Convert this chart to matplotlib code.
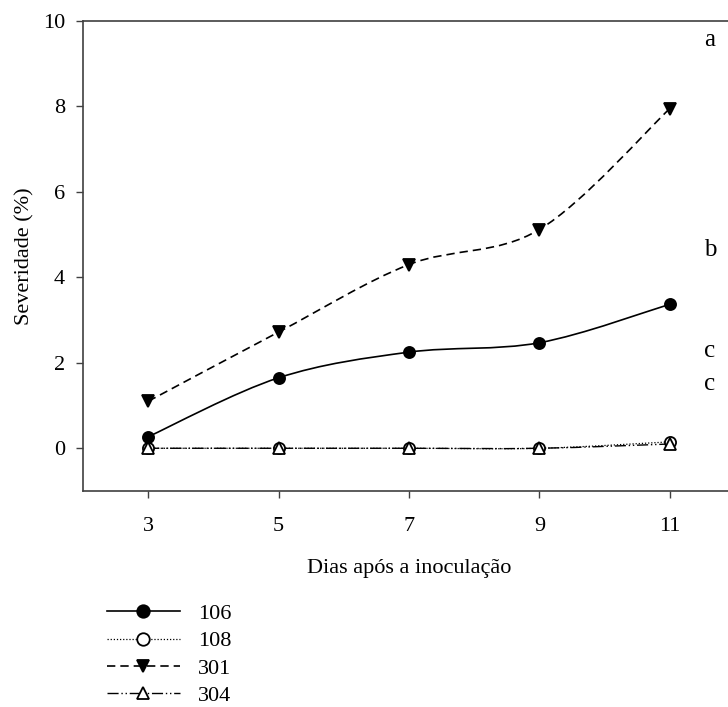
import matplotlib
matplotlib.use("Agg")
import matplotlib.pyplot as plt
from matplotlib.path import Path
from matplotlib.patches import PathPatch
from matplotlib.lines import Line2D
import numpy as np

plt.rcParams['font.family'] = ['Liberation Serif', 'DejaVu Serif']

# data
dias = [3, 5, 7, 9, 11]
sev_106 = [0.27, 1.65, 2.25, 2.47, 3.37]
sev_108 = [0.0, 0.0, 0.0, 0.0, 0.15]
sev_301 = [1.10, 2.72, 4.30, 5.12, 7.95]
sev_304 = [0.0, 0.0, 0.0, 0.0, 0.10]
letras = ["a", "b", "c", "c"]
letras_y = [9.55, 4.65, 2.27, 1.50]

series = [
    ("106", sev_106, "-", "o", "black", 1.2),
    ("108", sev_108, (0, (1, 1.5)), "o", "white", 0.9),
    ("301", sev_301, (0, (5, 3)), "v", "black", 1.2),
    ("304", sev_304, (0, (8, 2, 1, 2, 1, 2)), "^", "white", 1.0),
]


def smooth_path(x, y):
    # bezier curve through the points (Catmull-Rom style control points)
    x = np.asarray(x, float)
    y = np.asarray(y, float)
    verts = [(x[0], y[0])]
    codes = [Path.MOVETO]
    n = len(x)
    for i in range(n - 1):
        x0, y0 = (x[i - 1], y[i - 1]) if i > 0 else (x[i], y[i])
        x3, y3 = (x[i + 2], y[i + 2]) if i + 2 < n else (x[i + 1], y[i + 1])
        c1 = (x[i] + (x[i + 1] - x0) / 6, y[i] + (y[i + 1] - y0) / 6)
        c2 = (x[i + 1] - (x3 - x[i]) / 6, y[i + 1] - (y3 - y[i]) / 6)
        verts += [c1, c2, (x[i + 1], y[i + 1])]
        codes += [Path.CURVE4] * 3
    return Path(verts, codes)


fig = plt.figure(figsize=(7.28, 7.07), dpi=100)
ax = fig.add_axes([83 / 728, 1 - 491 / 707, 652 / 728, 470 / 707])

for name, vals, ls, mk, fc, lw in series:
    patch = PathPatch(smooth_path(dias, vals), facecolor="none", edgecolor="black",
                      linestyle=ls, linewidth=lw)
    ax.add_patch(patch)
    ax.plot(dias, vals, linestyle="none", marker=mk, markersize=8,
            markerfacecolor=fc, markeredgecolor="black", markeredgewidth=1.3,
            zorder=3)

for txt, yy in zip(letras, letras_y):
    ax.text(11.52, yy, txt, fontsize=18, ha="left", va="center")

ax.set_xlim(2, 12)
ax.set_ylim(-1, 10)
ax.set_xticks(dias)
ax.set_yticks([0, 2, 4, 6, 8, 10])
ax.tick_params(direction="out", length=5, width=1, labelsize=16, color="#404040")
ax.tick_params(axis="y", pad=8)
ax.tick_params(axis="x", pad=14)
for s in ax.spines.values():
    s.set_color("#404040")
    s.set_linewidth(1.2)

ax.set_xlabel("Dias após a inoculação", fontsize=16, labelpad=16)
ax.set_ylabel("Severidade (%)", fontsize=16, labelpad=6)

handles = []
for name, vals, ls, mk, fc, lw in series:
    handles.append(Line2D([], [], color="black", linestyle=ls, linewidth=lw,
                          marker=mk, markersize=9, markerfacecolor=fc,
                          markeredgecolor="black", markeredgewidth=1.3,
                          label=name))
fig.legend(handles=handles, loc="upper left", bbox_to_anchor=(91 / 728, 1 - 588 / 707),
           frameon=False, fontsize=16, handlelength=3.3, handletextpad=0.8,
           labelspacing=0.3, borderaxespad=0.3)

fig.savefig("out.png", dpi=100)
